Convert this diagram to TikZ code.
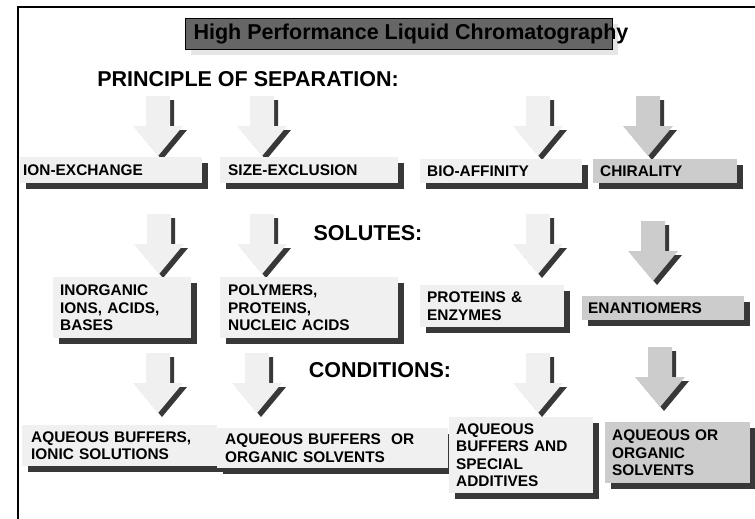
\documentclass[tikz,border=0pt]{standalone}
\usepackage{fontspec}
\setmainfont{Liberation Sans}
\usetikzlibrary{shadows}
\definecolor{shadowgray}{HTML}{383838}
\definecolor{palegray}{HTML}{F0F0F0}
\definecolor{midgray}{HTML}{CCCCCC}
\definecolor{titlegray}{HTML}{666666}
\definecolor{titleshade}{HTML}{E6E6E6}
\tikzset{
	heading/.style={font=\fontsize{21.5}{24}\selectfont\bfseries},
	titlebox/.style={anchor=north west, draw=black, line width=.8pt, fill=titlegray, inner sep=0pt,
		minimum width=427pt, minimum height=31pt,
		general shadow={fill=titleshade, shadow xshift=6pt, shadow yshift=-6pt}},
	tagbox/.style={anchor=north west, inner ysep=0pt, align=left, fill=palegray,
		font=\fontsize{15.4}{17.6}\selectfont\bfseries,
		general shadow={fill=shadowgray, shadow xshift=6pt, shadow yshift=-6pt}},
	pics/downarrow/.style={code={
		\fill[shadowgray, shift={(4,4)}] (-12,-60) -- (12,-60) -- (12,-30) -- (25,-30) -- (0,0) -- (-25,-30) -- (-12,-30) -- cycle;
		\fill[#1] (-12,-60) -- (12,-60) -- (12,-30) -- (25,-30) -- (0,0) -- (-25,-30) -- (-12,-30) -- cycle;
	}}
}
\begin{document}
\begin{tikzpicture}[x=1pt, y=-1pt]
	\useasboundingbox (0,0) rectangle (755,519);
	\draw[line width=1.5pt] (755,7) -- (18,7) -- (18,519);
	
	\node[titlebox] (titlebar) at (185,18) {};
	\node[heading] (title) at (411,34) {High Performance Liquid Chromatography};
	
	\node[heading] (principle) at (248,79) {PRINCIPLE OF SEPARATION:};
	\pic (arrowa) at (158,156) {downarrow=palegray};
	\pic (arrowb) at (262,156) {downarrow=palegray};
	\pic (arrowc) at (538,156) {downarrow=palegray};
	\pic (arrowd) at (648,156) {downarrow=midgray};
	\node[tagbox, inner xsep=3pt, text width=176pt, minimum height=26pt] (ionex) at (20,157) {ION-EXCHANGE};
	\node[tagbox, inner xsep=8pt, text width=162pt, minimum height=26pt] (sizeex) at (220,157) {SIZE-EXCLUSION};
	\node[tagbox, inner xsep=7pt, text width=148pt, minimum height=24pt] (bioaff) at (420,159) {BIO-AFFINITY};
	\node[tagbox, inner xsep=7pt, text width=130pt, minimum height=24pt, fill=midgray] (chiral) at (593,159) {CHIRALITY};
	
	\node[heading] (solutes) at (368,233) {SOLUTES:};
	\pic (arrowe) at (159,274) {downarrow=palegray};
	\pic (arrowf) at (262,274) {downarrow=palegray};
	\pic (arrowg) at (538,274) {downarrow=palegray};
	\pic (arrowh) at (653,281) {downarrow=midgray};
	\node[tagbox, inner xsep=7pt, text width=124pt, minimum height=61pt] (inorg) at (53,277) {INORGANIC\\IONS, ACIDS,\\BASES};
	\node[tagbox, inner xsep=8pt, text width=162pt, minimum height=61pt] (polym) at (220,277) {POLYMERS,\\PROTEINS,\\NUCLEIC ACIDS};
	\node[tagbox, inner xsep=7pt, text width=130pt, minimum height=42pt] (protenz) at (420,285) {PROTEINS \&\\ENZYMES};
	\node[tagbox, inner xsep=6pt, text width=150pt, minimum height=24pt, fill=midgray] (enant) at (582,296) {ENANTIOMERS};
	
	\node[heading] (conditions) at (380,370) {CONDITIONS:};
	\pic (arrowi) at (158,413) {downarrow=palegray};
	\pic (arrowj) at (257,413) {downarrow=palegray};
	\pic (arrowk) at (538,413) {downarrow=palegray};
	\pic (arrowl) at (660,407) {downarrow=midgray};
	\node[tagbox, inner xsep=9pt, text width=177pt, minimum height=41pt] (aqbufion) at (22,425) {AQUEOUS BUFFERS,\\IONIC SOLUTIONS};
	\node[tagbox, inner xsep=8pt, text width=215pt, minimum height=40pt] (aqbuforg) at (217,428) {AQUEOUS BUFFERS~ OR\\ORGANIC SOLVENTS};
	\node[tagbox, inner xsep=7pt, text width=130pt, minimum height=76pt] (aqbufspec) at (449,417) {AQUEOUS\\BUFFERS AND\\SPECIAL\\ADDITIVES};
	\node[tagbox, inner xsep=7pt, text width=131pt, minimum height=61pt, fill=midgray] (aqorg) at (605,422) {AQUEOUS OR\\ORGANIC\\SOLVENTS};
\end{tikzpicture}
\end{document}
